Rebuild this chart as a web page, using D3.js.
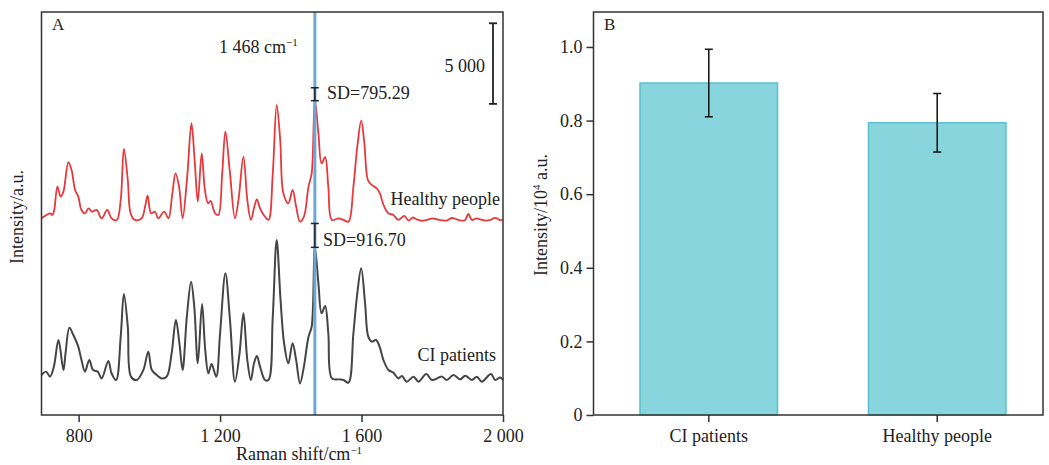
<!DOCTYPE html>
<html>
<head>
<meta charset="utf-8">
<script src="https://cdn.jsdelivr.net/npm/d3@7"></script>
<style>
  body { margin: 0; background: #fff; }
  svg text { font-family: "Liberation Serif", "Times New Roman", serif; fill: #222; }
</style>
</head>
<body>
<div id="chart"></div>
<script>
// Panel A: spectra, [Raman shift cm-1, intensity a.u.] (healthy trace is offset upward)
const healthySpectrum = [
    [695, 12200], [709, 12410], [719, 12510], [726, 12410], [731, 12720], [740, 14170], [749, 13550],
    [757, 13860], [771, 15680], [780, 15200], [790, 13960], [799, 13550], [808, 12720], [818, 12510],
    [828, 12820], [838, 12610], [851, 12720], [865, 12200], [881, 12720], [893, 12200], [908, 12100],
    [919, 13340], [928, 16500], [939, 14580], [947, 12510], [959, 12100], [978, 12200], [988, 12930],
    [995, 13610], [1005, 12510], [1016, 12610], [1025, 12200], [1042, 12610], [1054, 12200], [1065, 13750],
    [1074, 14990], [1084, 14170], [1094, 12200], [1107, 14790], [1119, 18100], [1128, 15820], [1137, 13240],
    [1148, 16230], [1157, 13960], [1166, 13130], [1173, 13280], [1186, 12510], [1195, 12410], [1206, 14990],
    [1215, 17580], [1228, 14990], [1242, 12200], [1252, 13340], [1266, 16030], [1277, 13340], [1287, 12100],
    [1297, 12930], [1304, 13380], [1313, 12820], [1327, 12300], [1337, 12100], [1349, 14990], [1360, 19230],
    [1370, 17060], [1379, 13750], [1393, 13130], [1405, 13960], [1415, 12930], [1426, 11990], [1437, 12300],
    [1450, 14170], [1459, 14990], [1468, 19540], [1478, 17470], [1487, 15610], [1497, 15990], [1506, 14170],
    [1516, 12100], [1535, 12200], [1549, 12100], [1563, 11990], [1577, 14170], [1588, 16650], [1599, 18260],
    [1608, 16850], [1618, 14580], [1629, 14270], [1643, 14060], [1652, 13750], [1662, 13030], [1676, 12510],
    [1690, 12410], [1704, 12100], [1721, 12350], [1733, 12060], [1745, 12250], [1756, 12140], [1770, 12050],
    [1785, 12100], [1800, 12200], [1813, 12140], [1827, 12080], [1841, 12060], [1855, 12220], [1869, 12140],
    [1882, 12060], [1893, 12100], [1902, 12470], [1912, 12100], [1925, 12200], [1935, 12140], [1950, 12060],
    [1964, 12100], [1975, 12220], [1983, 12200], [1992, 12080], [2000, 12140]
];
const ciSpectrum = [
    [695, 2480], [708, 2690], [719, 2380], [730, 3000], [743, 4650], [757, 2790], [763, 3830], [774, 5420],
    [785, 4960], [799, 4240], [808, 3410], [818, 2690], [830, 3410], [841, 2790], [854, 2690], [865, 2270],
    [884, 3350], [893, 2590], [906, 2170], [919, 4860], [928, 7510], [939, 5480], [948, 2380], [964, 2170],
    [983, 2790], [997, 3930], [1007, 2790], [1021, 2480], [1035, 2270], [1049, 2380], [1063, 3830],
    [1075, 5890], [1085, 4450], [1094, 2790], [1106, 6100], [1118, 8270], [1127, 6720], [1137, 3210],
    [1149, 6890], [1158, 4030], [1167, 2590], [1176, 3160], [1189, 2380], [1200, 5070], [1215, 8790],
    [1228, 5890], [1242, 2070], [1255, 3830], [1266, 6310], [1277, 3410], [1287, 2170], [1296, 3210],
    [1304, 3660], [1313, 3000], [1327, 2170], [1337, 2170], [1349, 6100], [1360, 10860], [1371, 7130],
    [1381, 4450], [1393, 3210], [1405, 4450], [1415, 3410], [1426, 1960], [1437, 3000], [1450, 4860],
    [1459, 5480], [1468, 10400], [1478, 8170], [1487, 6310], [1497, 6760], [1506, 5070], [1516, 2270],
    [1535, 2210], [1549, 2170], [1563, 2010], [1577, 5070], [1588, 7550], [1599, 9100], [1610, 6930],
    [1619, 4860], [1629, 4550], [1641, 4650], [1651, 4240], [1662, 3410], [1676, 2790], [1690, 2630],
    [1704, 2270], [1714, 2420], [1728, 2070], [1747, 2380], [1761, 2070], [1783, 2540], [1799, 2170],
    [1827, 2380], [1841, 2170], [1860, 2480], [1879, 2210], [1893, 2440], [1912, 2170], [1926, 2380],
    [1940, 2070], [1966, 2540], [1978, 2170], [1992, 2320], [2000, 2170]
];
const markerShift = 1468;
// SD bars at the 1468 peak: [low, high] in intensity units
const sdLabels = ["SD=795.29", "SD=916.70"];
const sdRanges = [[19500, 20300], [10400, 11880]];
const scaleBarRange = [19300, 24300];
const shiftTicks = [800, 1200, 1600, 2000];

// Panel B: mean intensity at 1468 cm-1 (x10^4 a.u.) with SD
const groups = ["CI patients", "Healthy people"];
const meanIntensity = [0.902, 0.794];
const sdIntensity = [0.09167, 0.07953];
const intensityTicks = [0, 0.2, 0.4, 0.6, 0.8, 1.0];

const fontSize = 18;
const frameColor = "#333";

const svg = d3.select("#chart")
    .append("svg")
    .attr("width", 1049)
    .attr("height", 465);

// ---------- Panel A ----------
const a = { left: 41.5, right: 503, top: 12, bottom: 415 };

const x = d3.scaleLinear()
    .domain([695, 2000])
    .range([a.left, a.right]);

const y = d3.scaleLinear()
    .domain([0, 25000])
    .range([a.bottom, a.top]);

const spaced = d => d >= 1000 ? d3.format(",")(d).replace(",", " ") : String(d);

const xAxis = svg.append("g")
    .attr("transform", `translate(0, ${a.bottom})`)
    .call(d3.axisBottom(x).tickValues(shiftTicks).tickFormat(spaced).tickSize(7).tickSizeOuter(0).tickPadding(7));
xAxis.select(".domain").remove();
xAxis.selectAll("line").attr("stroke", frameColor).attr("stroke-width", 1.5);
xAxis.selectAll("text").style("font-size", fontSize + "px").attr("fill", "#222");

const line = d3.line()
    .x(d => x(d[0]))
    .y(d => y(d[1]))
    .curve(d3.curveCatmullRom.alpha(0.5));

svg.append("path")
    .datum(healthySpectrum)
    .attr("d", line)
    .attr("fill", "none")
    .attr("stroke", "#e8383c")
    .attr("stroke-width", 1.8);

svg.append("path")
    .datum(ciSpectrum)
    .attr("d", line)
    .attr("fill", "none")
    .attr("stroke", "#454545")
    .attr("stroke-width", 2);

// marker line at 1468 cm-1
svg.append("line")
    .attr("x1", x(markerShift)).attr("x2", x(markerShift))
    .attr("y1", a.top).attr("y2", a.bottom)
    .attr("stroke", "#6aa9d3")
    .attr("stroke-width", 3);

// SD bars
sdRanges.forEach((r, i) => {
    const g = svg.append("g").attr("stroke", "#222").attr("stroke-width", 1.5);
    const cx = x(markerShift);
    g.append("line").attr("x1", cx).attr("x2", cx).attr("y1", y(r[0])).attr("y2", y(r[1]));
    g.append("line").attr("x1", cx - 4).attr("x2", cx + 4).attr("y1", y(r[0])).attr("y2", y(r[0]));
    g.append("line").attr("x1", cx - 4).attr("x2", cx + 4).attr("y1", y(r[1])).attr("y2", y(r[1]));
});
svg.append("text").attr("x", 327).attr("y", 99).style("font-size", fontSize + "px").text(sdLabels[0]);
svg.append("text").attr("x", 323).attr("y", 246).style("font-size", fontSize + "px").text(sdLabels[1]);

// 5 000 scale bar
const sb = svg.append("g").attr("stroke", "#222").attr("stroke-width", 1.8);
sb.append("line").attr("x1", 493).attr("x2", 493).attr("y1", y(scaleBarRange[0])).attr("y2", y(scaleBarRange[1]));
sb.append("line").attr("x1", 489).attr("x2", 497).attr("y1", y(scaleBarRange[0])).attr("y2", y(scaleBarRange[0]));
sb.append("line").attr("x1", 489).attr("x2", 497).attr("y1", y(scaleBarRange[1])).attr("y2", y(scaleBarRange[1]));
svg.append("text").attr("x", 485).attr("y", 72).attr("text-anchor", "end")
    .style("font-size", fontSize + "px").text(spaced(scaleBarRange[1] - scaleBarRange[0]));

// labels
const markerText = svg.append("text").attr("x", 219).attr("y", 53).style("font-size", fontSize + "px");
markerText.append("tspan").text("1 468 cm");
markerText.append("tspan").attr("dy", -7).style("font-size", "11px").text("−1");

svg.append("text").attr("x", 500).attr("y", 205).attr("text-anchor", "end")
    .style("font-size", fontSize + "px").text("Healthy people");
svg.append("text").attr("x", 496).attr("y", 361).attr("text-anchor", "end")
    .style("font-size", fontSize + "px").text("CI patients");

svg.append("text").attr("x", 52).attr("y", 30).style("font-size", "17px").text("A");

svg.append("text")
    .attr("transform", "translate(23, 217) rotate(-90)")
    .attr("text-anchor", "middle")
    .style("font-size", fontSize + "px")
    .text("Intensity/a.u.");

const xTitle = svg.append("text").attr("x", 299).attr("y", 460).attr("text-anchor", "middle")
    .style("font-size", fontSize + "px");
xTitle.append("tspan").text("Raman shift/cm");
xTitle.append("tspan").attr("dy", -6).style("font-size", "11px").text("−1");

svg.append("rect")
    .attr("x", a.left).attr("y", a.top)
    .attr("width", a.right - a.left).attr("height", a.bottom - a.top)
    .attr("fill", "none").attr("stroke", frameColor).attr("stroke-width", 1.5);

// ---------- Panel B ----------
const b = { left: 593.5, right: 1043, top: 12, bottom: 415 };

const xb = d3.scaleBand()
    .domain(groups)
    .range([598, 1048])
    .paddingInner(0.398)
    .paddingOuter(0.184);

const yb = d3.scaleLinear()
    .domain([0, 1.095])
    .range([b.bottom, b.top]);

svg.selectAll(".bar")
    .data(groups)
    .join("rect")
    .attr("class", "bar")
    .attr("x", d => xb(d))
    .attr("y", (d, i) => yb(meanIntensity[i]))
    .attr("width", xb.bandwidth())
    .attr("height", (d, i) => yb(0) - yb(meanIntensity[i]))
    .attr("fill", "#88d5de")
    .attr("stroke", "#55c2ce")
    .attr("stroke-width", 1.5);

// error bars
groups.forEach((g, i) => {
    const cx = xb(g) + xb.bandwidth() / 2;
    const lo = yb(meanIntensity[i] - sdIntensity[i]);
    const hi = yb(meanIntensity[i] + sdIntensity[i]);
    const eg = svg.append("g").attr("stroke", "#1a1a1a").attr("stroke-width", 1.6);
    eg.append("line").attr("x1", cx).attr("x2", cx).attr("y1", lo).attr("y2", hi);
    eg.append("line").attr("x1", cx - 4).attr("x2", cx + 4).attr("y1", lo).attr("y2", lo);
    eg.append("line").attr("x1", cx - 4).attr("x2", cx + 4).attr("y1", hi).attr("y2", hi);
});

const ybAxis = svg.append("g")
    .attr("transform", `translate(${b.left}, 0)`)
    .call(d3.axisLeft(yb).tickValues(intensityTicks)
        .tickFormat(d => d === 0 ? "0" : d3.format(".1f")(d))
        .tickSize(7).tickSizeOuter(0).tickPadding(4));
ybAxis.select(".domain").remove();
ybAxis.selectAll("line").attr("stroke", frameColor).attr("stroke-width", 1.5);
ybAxis.selectAll("text").style("font-size", fontSize + "px").attr("fill", "#222");

const xbAxis = svg.append("g")
    .attr("transform", `translate(0, ${b.bottom})`)
    .call(d3.axisBottom(xb).tickSize(7).tickSizeOuter(0).tickPadding(7));
xbAxis.select(".domain").remove();
xbAxis.selectAll("line").attr("stroke", frameColor).attr("stroke-width", 1.5);
xbAxis.selectAll("text").style("font-size", fontSize + "px").attr("fill", "#222");

svg.append("rect")
    .attr("x", b.left).attr("y", b.top)
    .attr("width", b.right - b.left).attr("height", b.bottom - b.top)
    .attr("fill", "none").attr("stroke", frameColor).attr("stroke-width", 1.5);

svg.append("text").attr("x", 604).attr("y", 30).style("font-size", "17px").text("B");

const ybTitle = svg.append("text")
    .attr("transform", "translate(547, 215) rotate(-90)")
    .attr("text-anchor", "middle")
    .style("font-size", fontSize + "px");
ybTitle.append("tspan").text("Intensity/10");
ybTitle.append("tspan").attr("dy", -7).style("font-size", "11px").text("4");
ybTitle.append("tspan").attr("dy", 7).text(" a.u.");
</script>
</body>
</html>
